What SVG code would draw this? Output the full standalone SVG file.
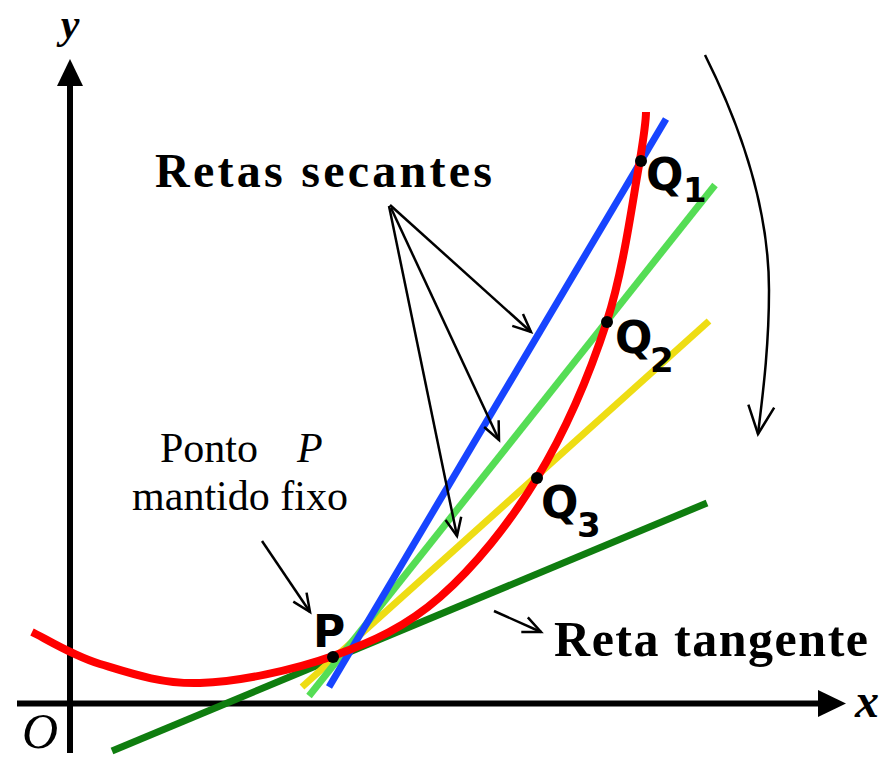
<svg xmlns="http://www.w3.org/2000/svg" width="883" height="758" viewBox="0 0 883 758">
<style>
.axis{stroke:#000;stroke-width:6;fill:none}
.sec{fill:none;stroke-width:7;stroke-linecap:butt}
.thin{fill:none;stroke:#000;stroke-width:2.5}
.serif{font-family:"Liberation Serif","Times New Roman",serif;fill:#000}
.lbl{font-family:"DejaVu Sans","Liberation Sans",sans-serif;font-weight:bold;fill:#000}
.dot{fill:#000}
</style>
<defs>
<marker id="ah" viewBox="-22 -12 26 24" refX="0" refY="0" markerWidth="26" markerHeight="24" markerUnits="userSpaceOnUse" orient="auto">
<path d="M-18,-8 L0,0 L-18,8" fill="none" stroke="#000" stroke-width="2.5"/>
</marker>
<marker id="ahL" viewBox="-32 -16 36 32" refX="0" refY="0" markerWidth="36" markerHeight="32" markerUnits="userSpaceOnUse" orient="auto">
<path d="M-28,-13 L0,0 L-28,13" fill="none" stroke="#000" stroke-width="2.5"/>
</marker>
</defs>
<rect width="883" height="758" fill="#fff"/>

<g id="axes">
<line class="axis" x1="70" y1="84" x2="70" y2="753"/>
<polygon points="70,59 57,86 83,86" fill="#000"/>
<line class="axis" x1="17" y1="703.5" x2="820" y2="703.5"/>
<polygon points="846,703.5 818,690 818,717" fill="#000"/>
<text class="serif" x="70" y="38" font-size="42" font-style="italic" font-weight="bold" text-anchor="middle">y</text>
<text class="serif" x="855" y="717" font-size="48" font-style="italic" font-weight="bold">x</text>
<text class="serif" x="22" y="748" font-size="50" font-style="italic">O</text>
</g>

<g id="lines">
<line id="tangent" class="sec" stroke="#0f7d0f" x1="112" y1="751" x2="707" y2="503"/>
<line id="secant-yellow" class="sec" stroke="#eedd14" x1="302" y1="687" x2="709" y2="321"/>
<line id="secant-green" class="sec" stroke="#55dd55" x1="309" y1="696" x2="715" y2="185"/>
<line id="secant-blue" class="sec" stroke="#1744ff" x1="329" y1="687" x2="666" y2="119"/>
</g>

<g id="curve">
<path fill="none" stroke="#ff0000" stroke-width="8" d="M32,632 C43.3,637.3 72,655.5 100,664 C128,672.5 161.2,684.3 200,683 C238.8,681.7 293,670.3 333,656 C373,641.7 406,626.7 440,597 C474,567.3 509.2,524 537,478 C564.8,432 589.8,374 607,321 C624.2,268 633.3,194.8 640,160 C644,135 646,122 646,112"/>
</g>

<g id="points">
<circle class="dot" cx="333" cy="657" r="6"/>
<circle class="dot" cx="537" cy="478" r="6"/>
<circle class="dot" cx="607" cy="322" r="6"/>
<circle class="dot" cx="641" cy="161" r="6"/>
</g>

<g id="label-P"><text class="lbl" x="313" y="647" font-size="44">P</text></g>
<g id="label-Q1"><text class="lbl" x="646" y="190" font-size="44">Q</text><text class="lbl" x="683" y="202" font-size="34">1</text></g>
<g id="label-Q2"><text class="lbl" x="615" y="353" font-size="44">Q</text><text class="lbl" x="650" y="372" font-size="34">2</text></g>
<g id="label-Q3"><text class="lbl" x="541" y="518" font-size="44">Q</text><text class="lbl" x="577" y="537" font-size="34">3</text></g>

<g id="label-secantes"><text class="serif" x="155" y="187" font-size="48" font-weight="bold" textLength="337" lengthAdjust="spacing">Retas secantes</text></g>
<g id="label-tangente"><text class="serif" x="554" y="656" font-size="50" font-weight="bold" textLength="314" lengthAdjust="spacing">Reta tangente</text></g>
<g id="label-ponto">
<text class="serif" x="160" y="462" font-size="42">Ponto<tspan x="297" font-style="italic">P</tspan></text>
<text class="serif" x="240" y="510" font-size="42" text-anchor="middle">mantido fixo</text>
</g>

<g id="connectors">
<line class="thin" x1="390" y1="205" x2="531" y2="332" marker-end="url(#ah)"/>
<line class="thin" x1="391" y1="208" x2="499" y2="440" marker-end="url(#ah)"/>
<line class="thin" x1="389" y1="206" x2="457" y2="536" marker-end="url(#ah)"/>
<line class="thin" x1="262" y1="541" x2="310" y2="612" marker-end="url(#ah)"/>
<line class="thin" x1="494" y1="611" x2="541" y2="632" marker-end="url(#ah)"/>
<path class="thin" d="M705,55 C735,115 769,200 769,290 C769,350 762,400 758,434" marker-end="url(#ahL)"/>
</g>
</svg>
